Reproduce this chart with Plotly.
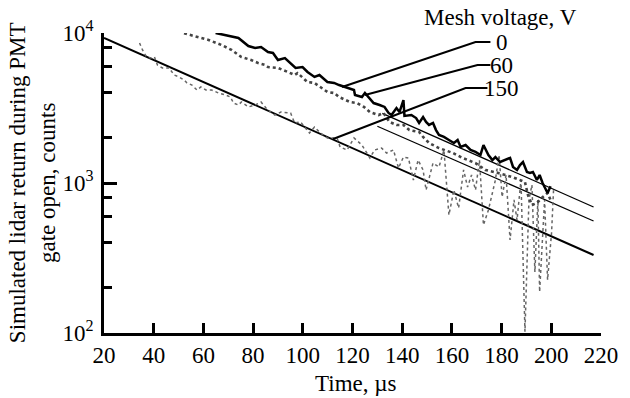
import plotly.graph_objects as go

FONT = "Liberation Serif"

# Mesh voltage 0 V (thick solid)
t0 = [64.9, 68.9, 74.1, 78.1, 80.8, 83.2, 86.0, 88.0, 90.0, 92.8, 95.1, 97.1, 99.9, 101.9, 104.7,
      106.7, 109.9, 112.6, 114.6, 117.5, 120.6, 121.0, 123.8, 125.0, 126.6, 128.5, 130.9, 132.9,
      134.5, 135.7, 137.7, 138.9, 140.5, 140.9, 143.7, 145.6, 146.8, 148.4, 149.6, 150.8, 152.4,
      153.6, 154.8, 156.8, 158.8, 160.8, 162.3, 163.5, 165.5, 167.5, 169.5, 171.5, 172.7, 174.7,
      176.3, 177.5, 179.4, 181.4, 183.4, 184.6, 186.2, 187.4, 188.6, 190.2, 191.4, 192.6, 194.2,
      195.3, 196.5, 198.5, 199.7]
v0 = [10000, 9705, 9268, 8185, 7943, 8072, 7464, 7362, 6607, 6808, 6310, 5848, 5929, 5495, 5093,
      5248, 4710, 4645, 4498, 4350, 4169, 3864, 3741, 3981, 3690, 3412, 3311, 3214,
      2931, 2838, 3162, 2972, 3573, 2799, 2838, 2710, 2512, 2754, 2553, 2438, 2512,
      2254, 2089, 2028, 1936, 1849, 1936, 1738, 1791, 1660, 1611, 1538, 1791, 1538,
      1422, 1489, 1380, 1422, 1469, 1279, 1222, 1318, 1380, 1183, 1167, 1183, 1047,
      1130, 1000, 857, 950]

# Mesh voltage 60 V (hatched)
t60 = [52.2, 57.0, 62.1, 67.3, 71.3, 75.3, 79.2, 82.0, 84.8, 86.0, 90.0, 94.0, 96.7, 97.9, 101.9,
       104.7, 107.1, 109.9, 112.6, 114.6, 119.0, 121.8, 124.6, 127.0, 130.5, 132.5, 134.9, 137.7,
       140.5, 142.9, 146.8, 148.4, 150.8, 154.8, 160.4, 164.3, 169.5, 173.5, 178.6, 184.2, 189.4,
       190.6, 192.2, 194.2, 196.1, 198.5, 199.7]
v60 = [9955, 9441, 8981, 8318, 7709, 6918, 6607, 6310, 6124, 5929, 5848, 5495, 5248, 5408, 4710,
       4645, 4365, 4045, 3981, 3741, 3467, 3412, 3214, 2972, 2838, 2931, 2553, 2438,
       2438, 2254, 2188, 2028, 1849, 1710, 1585, 1469, 1358, 1222, 1167, 1096, 1016,
       832, 713, 736, 794, 857, 771]

# Mesh voltage 150 V (light dotted)
t150 = [34.3, 35.5, 37.1, 39.1, 40.3, 41.5, 43.5, 46.2, 48.2, 50.2, 52.2, 53.4, 55.4, 57.4, 59.0,
        61.0, 63.3, 66.1, 68.9, 70.9, 72.1, 74.1, 75.3, 78.1, 80.8, 83.2, 85.2, 86.0, 88.8, 91.2,
        95.1, 96.7, 99.1, 102.7, 104.7, 107.1, 109.9, 113.8, 115.0, 117.8, 120.6, 123.8, 127.0,
        128.9, 131.7, 133.7, 136.5, 138.5, 140.5, 142.5, 144.5, 146.4, 148.4, 149.6, 152.4, 154.8,
        156.8, 158.8, 160.8, 162.7, 164.7, 166.3, 167.9, 169.5, 171.1, 172.7, 174.7, 177.5, 179.0,
        180.2, 181.8, 183.4, 185.0, 186.2, 187.8, 189.4, 191.0, 192.2, 193.4, 194.6, 195.3, 196.5,
        197.3, 198.5, 200.1, 200.9]
v150 = [8577, 7709, 6918, 6808, 6918, 6124, 5848, 5848, 5248, 5093, 4864, 4645, 4498, 4169, 4365,
        4169, 4169, 3981, 3864, 3741, 3412, 3311, 3467, 3214, 3311, 3467, 3162, 3069, 2838, 2972,
        2931, 2512, 2553, 2154, 2360, 2154, 1995, 1995, 1738, 1660, 1995, 1791, 1469,
        1660, 1710, 1585, 1660, 1259, 1489, 1469, 1047, 1422, 1222, 898, 1358, 1279,
        1660, 612, 898, 681, 1222, 940, 1130, 898, 1422, 525, 661, 1047, 1538,
        807, 1130, 417, 771, 566, 1047, 102, 771, 970, 255, 771, 188, 486,
        771, 226, 464, 898]

# Exponential fit lines (start/end values)
fit0_t = [132.0, 217.0]
fit0_v = [2910, 692]
fit60_t = [130.0, 217.0]
fit60_v = [2390, 558]
fit150_t = [20.0, 217.0]
fit150_v = [9260, 331]

legend_title = "Mesh voltage, V"
legend_labels = ["0", "60", "150"]

fig = go.Figure()

fig.add_trace(go.Scatter(x=fit0_t, y=fit0_v, mode="lines", line=dict(color="black", width=1.3), showlegend=False))
fig.add_trace(go.Scatter(x=fit60_t, y=fit60_v, mode="lines", line=dict(color="black", width=1.3), showlegend=False))
fig.add_trace(go.Scatter(x=fit150_t, y=fit150_v, mode="lines", line=dict(color="black", width=2), showlegend=False))

fig.add_trace(go.Scatter(x=t150, y=v150, mode="lines", line=dict(color="#666666", width=1.5, dash="dot"), showlegend=False))
fig.add_trace(go.Scatter(x=t60, y=v60, mode="lines", line=dict(color="#444444", width=2.6, dash="dot"), showlegend=False))
fig.add_trace(go.Scatter(x=t0, y=v0, mode="lines", line=dict(color="black", width=2.5), showlegend=False))

# leader lines (data coords)
leaders = [
    ([175.5, 169.5, 115.8], [8710, 8710, 4365]),
    ([175.5, 170.3, 125.0], [6120, 6120, 3860]),
    ([174.3, 165.5, 112.2], [4300, 4300, 1965]),
]
for lx, ly in leaders:
    fig.add_trace(go.Scatter(x=lx, y=ly, mode="lines", line=dict(color="black", width=2), showlegend=False))

PL, PR, PT, PB = 104, 609, 33, 333
def px(x):
    return (x - PL) / (PR - PL)
def py(y):
    return (PB - y) / (PB - PT)

annotations = [
    dict(text=legend_title, x=px(507), y=py(17), xref="paper", yref="paper",
         showarrow=False, xanchor="center", yanchor="middle"),
]
label_pos = [(508, 42), (508, 65), (508, 88)]
for lab, (lx, ly) in zip(legend_labels, label_pos):
    annotations.append(dict(text=lab, x=px(lx), y=py(ly), xref="paper", yref="paper",
                            showarrow=False, xanchor="center", yanchor="middle"))
annotations.append(dict(text="Simulated lidar return during PMT<br>gate open, counts", textangle=-90,
                        x=px(31), y=0.5, xref="paper", yref="paper", showarrow=False,
                        xanchor="center", yanchor="middle"))
annotations.append(dict(text="Time, µs", x=px(360), y=py(383), xref="paper", yref="paper",
                        showarrow=False, xanchor="center", yanchor="middle"))

fig.update_layout(
    width=630, height=398,
    margin=dict(l=PL, r=630 - PR, t=PT, b=398 - PB),
    paper_bgcolor="white", plot_bgcolor="white",
    font=dict(family=FONT, size=23, color="black"),
    annotations=annotations,
    xaxis=dict(range=[20, 220], tickmode="array", tickvals=list(range(20, 221, 20)),
               ticks="inside", ticklen=10, tickwidth=2.5, tickcolor="black",
               showline=True, linewidth=2.5, linecolor="black", showgrid=False, zeroline=False,
               tickfont=dict(family=FONT, size=23)),
    yaxis=dict(type="log", range=[2, 4], tickmode="array", tickvals=[100, 1000, 10000],
               ticktext=["10<sup>2</sup>", "10<sup>3</sup>", "10<sup>4</sup>"],
               ticks="inside", ticklen=13, tickwidth=2.5, tickcolor="black", ticklabelstandoff=3,
               minor=dict(tickmode="array", tickvals=[200, 400, 600, 800, 2000, 4000, 6000, 8000],
                          ticks="inside", ticklen=8, tickwidth=2.5, tickcolor="black", showgrid=False),
               showline=True, linewidth=2.5, linecolor="black", showgrid=False, zeroline=False,
               tickfont=dict(family=FONT, size=23)),
)

fig.write_html("out.html")
